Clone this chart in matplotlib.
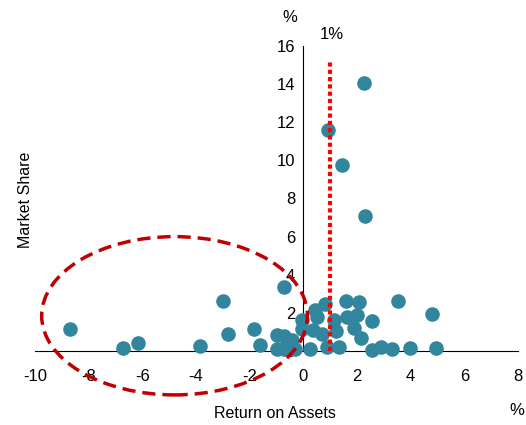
import matplotlib.pyplot as plt
from matplotlib.patches import Ellipse

plt.rcParams['font.family'] = ['Liberation Sans', 'DejaVu Sans']
plt.rcParams['axes.unicode_minus'] = False

# return on assets (%) and market share (%)
roa = [-8.69, -6.72, -6.16, -3.84, -2.99, -2.80, -1.85, -1.60, -0.71,
       -0.98, -0.73, -0.98, -0.73, -0.42, -0.30, -0.05, -0.05, 0.26, 0.36,
       0.45, 0.49, 0.82, 0.70, 0.88, 1.13, 1.23, 1.32, 1.57, 2.06, 1.63,
       1.98, 1.88, 2.13, 2.56, 2.56, 2.90, 3.32, 3.54, 3.97, 4.80, 4.95,
       2.25, 0.90, 1.44, 2.31]
share = [1.15, 0.16, 0.42, 0.26, 2.62, 0.89, 1.15, 0.30, 3.36,
         0.84, 0.79, 0.12, 0.12, 0.58, 0.12, 1.15, 1.63, 0.12, 1.10,
         2.15, 1.80, 2.45, 0.87, 0.23, 1.63, 1.05, 0.23, 2.62, 2.55, 1.80,
         1.89, 1.22, 0.67, 1.57, 0.07, 0.23, 0.09, 2.64, 0.14, 1.93, 0.17,
         14.08, 11.6, 9.76, 7.08]
x_ticks = [-10, -8, -6, -4, -2, 0, 2, 4, 6, 8]
y_ticks = [0, 2, 4, 6, 8, 10, 12, 14, 16]
threshold = 1

fig = plt.figure(figsize=(5.26, 4.25), dpi=100)
ax = fig.add_axes([0.0665, 0.174, 0.9185, 0.718])

ax.scatter(roa, share, s=110, color='#31859C', zorder=3, linewidths=0,
           clip_on=False)

# 1% threshold line
ax.plot([threshold, threshold], [0, 15.2], color='#FF0000', lw=3,
        linestyle=(0, (1, 0.75)), zorder=4)
ax.text(threshold + 0.05, 16.2, '1%', ha='center', va='bottom', fontsize=12)

# highlighted loss-making region
ell = Ellipse((-4.8, 1.85), 9.9, 8.3, fill=False, edgecolor='#C00000',
              lw=2.5, linestyle=(0, (3.8, 2)), zorder=5, clip_on=False)
ax.add_patch(ell)

ax.set_xlim(-10, 8)
ax.set_ylim(0, 16)
ax.spines['left'].set_position(('data', 0))
ax.spines['bottom'].set_position(('data', 0))
ax.spines['right'].set_visible(False)
ax.spines['top'].set_visible(False)
ax.set_xticks(x_ticks)
ax.set_yticks(y_ticks)
ax.tick_params(length=0, labelsize=12)
ax.tick_params(axis='x', pad=13)
ax.tick_params(axis='y', pad=6)

fig.text(0.551, 0.96, '%', ha='center', va='center', fontsize=12)
fig.text(0.983, 0.035, '%', ha='center', va='center', fontsize=12)
fig.text(0.523, 0.028, 'Return on Assets', ha='center', va='center', fontsize=11.5)
fig.text(0.048, 0.53, 'Market Share', ha='center', va='center',
         rotation=90, fontsize=11.5)

fig.savefig('out.png', dpi=100)
